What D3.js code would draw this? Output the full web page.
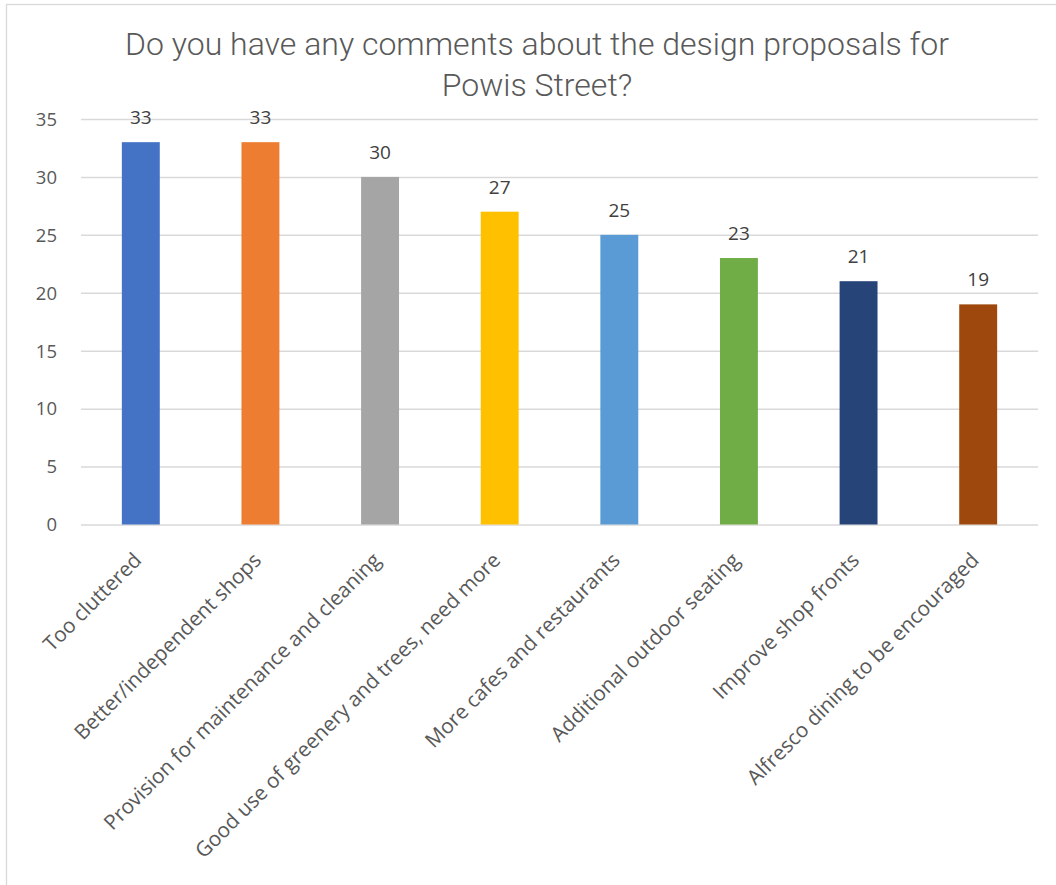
<!DOCTYPE html>
<html>
<head>
<meta charset="utf-8">
<script src="https://cdn.jsdelivr.net/npm/d3@7"></script>
<style>
  html, body { margin: 0; padding: 0; background: #fff; }
  svg { display: block; }
</style>
</head>
<body>
<svg id="chart" width="1056" height="885"></svg>
<script>
// Survey responses: comments on the Powis Street design proposals
const categories = [
  "Too cluttered",
  "Better/independent shops",
  "Provision for maintenance and cleaning",
  "Good use of greenery and trees, need more",
  "More cafes and restaurants",
  "Additional outdoor seating",
  "Improve shop fronts",
  "Alfresco dining to be encouraged"
];
const counts = [33, 33, 30, 27, 25, 23, 21, 19];
const barColors = ["#4472C4", "#ED7D31", "#A5A5A5", "#FFC000", "#5B9BD5", "#70AD47", "#264478", "#9E480E"];
const yTicks = [0, 5, 10, 15, 20, 25, 30, 35];
const titleLines = ["Do you have any comments about the design proposals for", "Powis Street?"];

const svg = d3.select("#chart");
const plot = { left: 81, right: 1038, top: 119, bottom: 524.5 };

// outer chart frame (runs off the right and bottom edges)
svg.append("rect")
  .attr("x", 6.5).attr("y", 4.5)
  .attr("width", 1200).attr("height", 1200)
  .attr("fill", "#fff")
  .attr("stroke", "#d9d9d9").attr("stroke-width", 1.3);

const x = d3.scaleBand()
  .domain(categories)
  .range([plot.left, plot.right])
  .paddingInner(0.683)
  .paddingOuter(0.3415);

const y = d3.scaleLinear()
  .domain([0, 35])
  .range([plot.bottom, plot.top]);

// title
svg.append("g")
  .selectAll("text")
  .data(titleLines)
  .join("text")
  .attr("x", 537)
  .attr("y", (d, i) => 55 + i * 41)
  .attr("text-anchor", "middle")
  .attr("font-family", "Roboto, sans-serif")
  .attr("font-weight", 300)
  .attr("font-size", 32)
  .attr("fill", "#595959")
  .text(d => d);

// horizontal gridlines + y tick labels
const yAxis = d3.axisLeft(y)
  .tickValues(yTicks)
  .tickSize(-(plot.right - plot.left))
  .tickPadding(24)
  .tickFormat(d3.format("d"));

const gy = svg.append("g")
  .attr("transform", `translate(${plot.left},0)`)
  .call(yAxis);
gy.select(".domain").remove();
gy.selectAll(".tick line")
  .attr("stroke", "#d9d9d9")
  .attr("stroke-width", 1.5);
gy.selectAll(".tick text")
  .attr("font-family", "'Open Sans', sans-serif")
  .attr("font-size", 18.5)
  .attr("fill", "#595959")
  .attr("x", 57 - plot.left)
  .attr("dy", "0.34em");

// bars
svg.append("g")
  .selectAll("rect")
  .data(categories)
  .join("rect")
  .attr("x", d => x(d))
  .attr("y", (d, i) => y(counts[i]))
  .attr("width", x.bandwidth())
  .attr("height", (d, i) => y(0) - y(counts[i]))
  .attr("fill", (d, i) => barColors[i]);

// value labels above bars
svg.append("g")
  .selectAll("text")
  .data(categories)
  .join("text")
  .attr("x", d => x(d) + x.bandwidth() / 2)
  .attr("y", (d, i) => y(counts[i]) - 18)
  .attr("text-anchor", "middle")
  .attr("font-family", "'Open Sans', sans-serif")
  .attr("font-size", 19)
  .attr("fill", "#404040")
  .text((d, i) => counts[i]);

// category axis with rotated labels
const xAxis = d3.axisBottom(x).tickSize(0).tickPadding(0);
const gx = svg.append("g")
  .attr("transform", `translate(0,${plot.bottom})`)
  .call(xAxis);
gx.select(".domain").remove();
gx.selectAll(".tick text")
  .attr("font-family", "'Open Sans', sans-serif")
  .attr("font-size", 20.7)
  .attr("fill", "#595959")
  .attr("text-anchor", "end")
  .attr("dy", null)
  .attr("y", 0)
  .attr("transform", "translate(2,37) rotate(-45)");
</script>
</body>
</html>
